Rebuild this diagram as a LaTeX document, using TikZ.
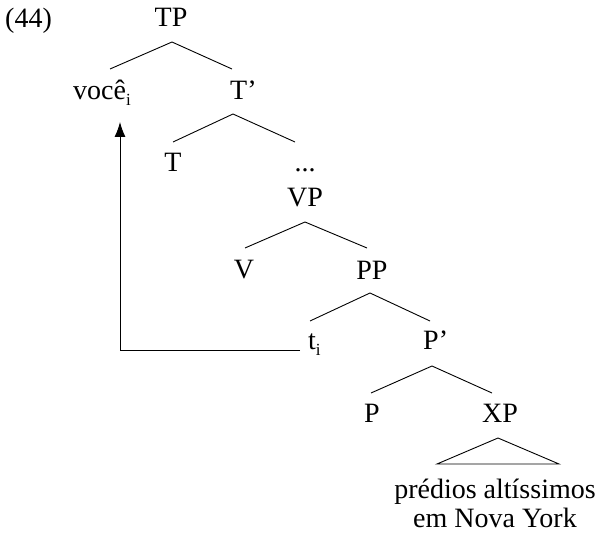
\documentclass[tikz,border=0pt]{standalone}
\usepackage{fontspec}
\setmainfont{Liberation Serif}
\usetikzlibrary{arrows.meta}
% lowered index on a trace or its antecedent
\newcommand\coidx[1]{\raisebox{-6pt}{\fontsize{17}{17}\selectfont #1}}
\begin{document}
\begin{tikzpicture}[x=1pt,y=-1pt,
  lbl/.style={inner sep=0pt,font=\fontsize{28}{30}\selectfont},
  branch/.style={line width=0.9pt},
  movement/.style={line width=0.9pt,-{Latex[length=15pt,width=11pt]}}]
\useasboundingbox (0,0) rectangle (600,534);

% example number
\node[lbl,anchor=base west] (ex) at (5,28) {(44)};

% tree labels
\node[lbl,anchor=base] (TP) at (171,27) {TP};
\node[lbl,anchor=base west] (voce) at (73,100) {você\coidx{i}};
\node[lbl,anchor=base west] (Tbar) at (230,100) {T’};
\node[lbl,anchor=base] (T) at (173,172) {T};
\node[lbl,anchor=base] (dots) at (305,172) {...};
\node[lbl,anchor=base] (VP) at (305,207) {VP};
\node[lbl,anchor=base] (V) at (244,279) {V};
\node[lbl,anchor=base] (PP) at (372,280) {PP};
\node[lbl,anchor=base west] (t) at (308,350) {t\coidx{i}};
\node[lbl,anchor=base west] (Pbar) at (423,350) {P’};
\node[lbl,anchor=base] (P) at (372,423) {P};
\node[lbl,anchor=base] (XP) at (500,423) {XP};
\node[lbl,anchor=base] (phrase) at (495,498) {prédios altíssimos};
\node[lbl,anchor=base] (phrasetwo) at (495,527) {em Nova York};

% branches
\draw[branch] ([shift={(37,-31)}]voce.base west) -- ([shift={(1,15)}]TP.base) -- ([shift={(2,-31)}]Tbar.base west);
\draw[branch] ([shift={(0,-30)}]T.base) -- ([shift={(3,14)}]Tbar.base west) -- ([shift={(-10,-30)}]dots.base);
\draw[branch] ([shift={(1,-31)}]V.base) -- ([shift={(0,15)}]VP.base) -- ([shift={(-5,-32)}]PP.base);
\draw[branch] ([shift={(2,-29)}]t.base west) -- ([shift={(-2,13)}]PP.base) -- ([shift={(7,-29)}]Pbar.base west);
\draw[branch] ([shift={(-1,-30)}]P.base) -- ([shift={(9,16)}]Pbar.base west) -- ([shift={(-8,-30)}]XP.base);

% triangle over the unanalysed phrase
\draw[branch] ([shift={(-2,15)}]XP.base) -- ([shift={(-58,-34)}]phrase.base) -- ([shift={(64,-34)}]phrase.base) -- cycle;

% movement arrow from the trace to its antecedent
\draw[movement] ([shift={(-8,0)}]t.base west) -| ([shift={(47,22)}]voce.base west);
\end{tikzpicture}
\end{document}
